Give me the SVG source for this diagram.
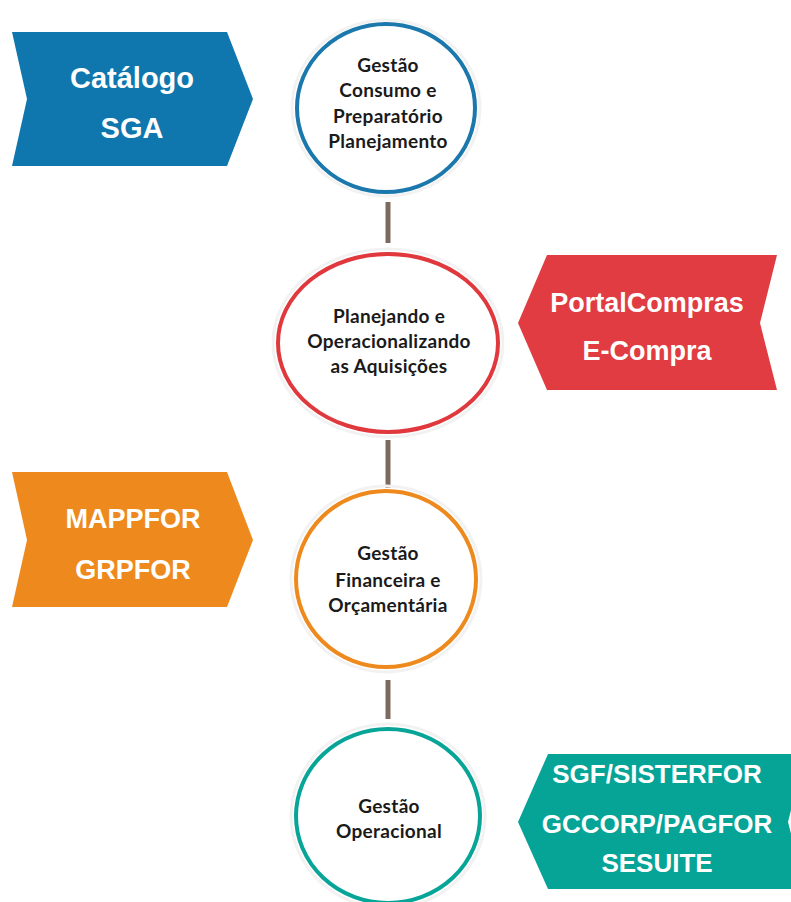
<svg xmlns="http://www.w3.org/2000/svg" width="791" height="902" viewBox="0 0 791 902">
<defs>
<style>
.bg{fill:#ffffff}
.circ{fill:#ffffff;stroke-width:4}
.ctext{font-family:Lato,"Open Sans","Liberation Sans",sans-serif;font-weight:bold;font-size:19px;letter-spacing:0.3px;fill:#1a1a1a;text-anchor:middle}
.tag{font-family:"Liberation Sans",Arial,sans-serif;font-weight:bold;font-size:27px;fill:#ffffff;text-anchor:middle}
.conn{stroke:#7b6a5d;stroke-width:5;fill:none}
.glow{fill:none;stroke:#f2f2f2;stroke-width:3}
</style>
</defs>
<rect class="bg" x="0" y="0" width="791" height="902"/>
<g id="connectors">
<line class="conn" x1="388" y1="202" x2="388" y2="243"/>
<line class="conn" x1="388" y1="440" x2="388" y2="488"/>
<line class="conn" x1="388" y1="680" x2="388" y2="719"/>
</g>
<g id="tag-catalogo">
<polygon points="12,32 227,32 253,99 227,166 12,166 27,99" fill="#0f77ad"/>
<text class="tag" x="132" y="88" style="font-size:29px">Catálogo</text>
<text class="tag" x="132" y="138" style="font-size:29px">SGA</text>
</g>
<g id="node-consumo">
<ellipse class="glow" cx="386" cy="108" rx="94" ry="88"/>
<ellipse class="circ" cx="386" cy="108" rx="89" ry="84" stroke="#1a78ad"/>
<text class="ctext" x="388" y="72">Gestão</text>
<text class="ctext" x="388" y="97">Consumo e</text>
<text class="ctext" x="388" y="123">Preparatório</text>
<text class="ctext" x="388" y="148">Planejamento</text>
</g>
<g id="node-aquisicoes">
<ellipse class="glow" cx="388" cy="343" rx="115" ry="94"/>
<ellipse class="circ" cx="388" cy="343" rx="110" ry="89" stroke="#e0383d"/>
<text class="ctext" x="389" y="323">Planejando e</text>
<text class="ctext" x="389" y="348">Operacionalizando</text>
<text class="ctext" x="389" y="373">as Aquisições</text>
</g>
<g id="tag-portal">
<polygon points="547,255 777,255 760,323 777,390 547,390 518,323" fill="#e03c41"/>
<text class="tag" x="647" y="312">PortalCompras</text>
<text class="tag" x="647" y="360">E-Compra</text>
</g>
<g id="tag-mappfor">
<polygon points="12,472 227,472 253,540 227,607 12,607 27,540" fill="#ee8a1d"/>
<text class="tag" x="133" y="528">MAPPFOR</text>
<text class="tag" x="133" y="579">GRPFOR</text>
</g>
<g id="node-financeira">
<ellipse class="glow" cx="386" cy="579" rx="95" ry="93"/>
<ellipse class="circ" cx="386" cy="579" rx="90" ry="88" stroke="#ee8a1d"/>
<text class="ctext" x="388" y="560">Gestão</text>
<text class="ctext" x="388" y="587">Financeira e</text>
<text class="ctext" x="388" y="612">Orçamentária</text>
</g>
<g id="node-operacional">
<ellipse class="glow" cx="388" cy="816" rx="97" ry="92"/>
<ellipse class="circ" cx="388" cy="816" rx="92" ry="87" stroke="#07a597"/>
<text class="ctext" x="389" y="813">Gestão</text>
<text class="ctext" x="389" y="838">Operacional</text>
</g>
<g id="tag-sgf">
<polygon points="548,754 805,754 788,822 805,889 548,889 518,822" fill="#05a497"/>
<text class="tag" x="657" y="783" style="font-size:26px">SGF/SISTERFOR</text>
<text class="tag" x="657" y="833" style="font-size:26px">GCCORP/PAGFOR</text>
<text class="tag" x="657" y="872" style="font-size:26px">SESUITE</text>
</g>
</svg>
